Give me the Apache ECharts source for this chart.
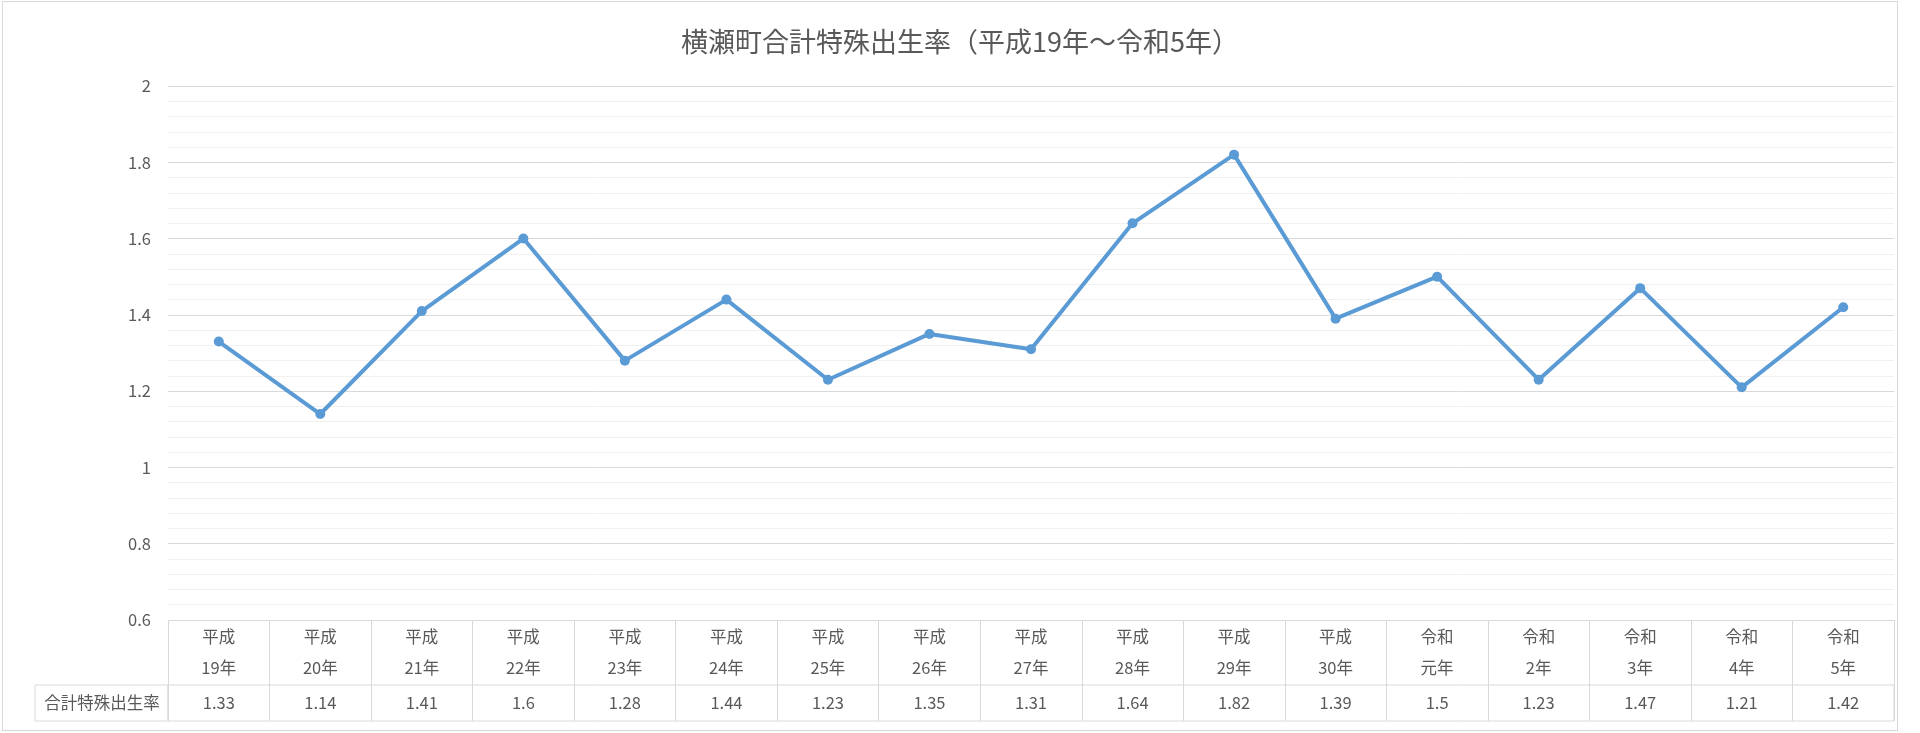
<!DOCTYPE html>
<html><head><meta charset="utf-8">
<script src="https://cdn.jsdelivr.net/npm/echarts@6/dist/echarts.min.js"></script>
<style>
html,body{margin:0;padding:0;background:#fff;}
#frame{position:absolute;left:2px;top:1px;width:1896px;height:730px;border:1px solid #d9d9d9;box-sizing:border-box;pointer-events:none;}
#c{position:absolute;left:0;top:0;width:1920px;height:733px;}
</style></head>
<body>
<div id="frame"></div>
<div id="c"></div>
<script>
const titleText = '横瀬町合計特殊出生率（平成19年～令和5年）';
const seriesName = '合計特殊出生率';
const categories = ['平成\n19年','平成\n20年','平成\n21年','平成\n22年','平成\n23年','平成\n24年','平成\n25年','平成\n26年','平成\n27年','平成\n28年','平成\n29年','平成\n30年','令和\n元年','令和\n2年','令和\n3年','令和\n4年','令和\n5年'];
const values = [1.33,1.14,1.41,1.6,1.28,1.44,1.23,1.35,1.31,1.64,1.82,1.39,1.5,1.23,1.47,1.21,1.42];
const yMin = 0.6, yMax = 2, yInterval = 0.2;

const FONT = '"Noto Sans CJK JP", "Noto Sans", sans-serif';
const TXT = '#595959';
const GRID = '#d9d9d9';

const chart = echarts.init(document.getElementById('c'));
chart.setOption({
  animation: false,
  textStyle: { fontFamily: FONT, color: TXT },
  title: {
    text: titleText, left: 'center', top: 23,
    textStyle: { fontFamily: FONT, fontSize: 27, fontWeight: 'normal', color: TXT }
  },
  grid: [
    { left: 168, right: 26, top: 86, height: 534 },
    { left: 168, right: 26, top: 685, height: 36, show: true, borderColor: GRID, borderWidth: 1, backgroundColor: 'transparent' },
    { left: 35, top: 685, width: 133, height: 36, show: true, borderColor: GRID, borderWidth: 1, backgroundColor: 'transparent' }
  ],
  xAxis: [
    {
      type: 'category', gridIndex: 0, data: categories, boundaryGap: true,
      axisLine: { show: true, lineStyle: { color: GRID, width: 1 } },
      axisTick: { show: true, interval: 0, length: 65, lineStyle: { color: GRID, width: 1 } },
      axisLabel: { interval: 0, margin: 1, fontSize: 16.5, lineHeight: 31, color: TXT, fontFamily: FONT, align: 'center', verticalAlign: 'top' },
      splitLine: { show: false }
    },
    {
      type: 'category', gridIndex: 1, data: categories, boundaryGap: true, position: 'top',
      axisLine: { show: false }, axisTick: { show: false },
      splitLine: { show: true, interval: 0, lineStyle: { color: GRID, width: 1 } },
      axisLabel: { interval: 0, inside: true, margin: 18, verticalAlign: 'middle', fontSize: 16.5, color: TXT, fontFamily: FONT,
        formatter: (v, i) => String(values[i]) }
    },
    { type: 'category', gridIndex: 2, data: [''], show: false }
  ],
  yAxis: [
    {
      type: 'value', gridIndex: 0, min: yMin, max: yMax, interval: yInterval,
      axisLine: { show: false }, axisTick: { show: false },
      axisLabel: { margin: 17, fontSize: 16.5, color: TXT, fontFamily: FONT },
      splitLine: { show: true, lineStyle: { color: GRID, width: 1 } },
      minorTick: { show: false, splitNumber: 5 },
      minorSplitLine: { show: true, lineStyle: { color: '#f0f0f0', width: 1 } }
    },
    {
      type: 'category', gridIndex: 1, data: [seriesName],
      axisLine: { show: false }, axisTick: { show: false }, splitLine: { show: false },
      axisLabel: { margin: 66, align: 'center', fontSize: 16.5, color: TXT, fontFamily: FONT }
    },
    { type: 'value', gridIndex: 2, show: false, splitLine: { show: false } }
  ],
  series: [
    {
      name: seriesName, type: 'line', xAxisIndex: 0, yAxisIndex: 0, data: values,
      symbol: 'circle', symbolSize: 10, showSymbol: true,
      lineStyle: { color: '#5B9BD5', width: 4 },
      itemStyle: { color: '#5B9BD5' }
    }
  ]
});
</script>
</body></html>
